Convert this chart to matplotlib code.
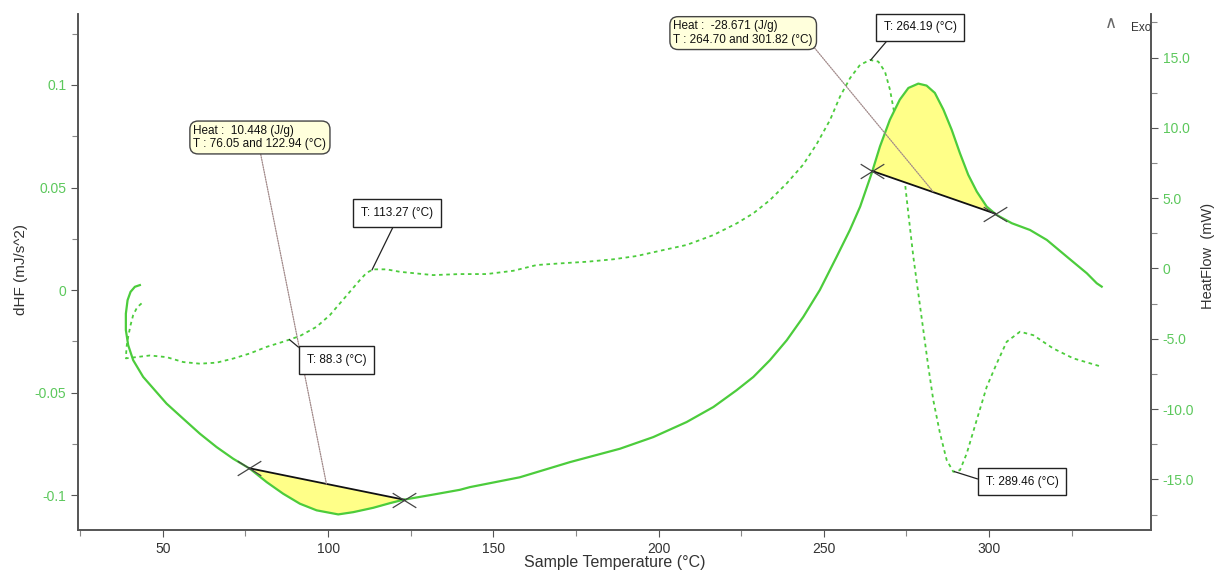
import numpy as np
import matplotlib
matplotlib.use("Agg")
import matplotlib.pyplot as plt
from matplotlib.path import Path
from matplotlib.ticker import MultipleLocator, FuncFormatter

plt.rcParams['font.family'] = ['Liberation Sans', 'DejaVu Sans']
plt.rcParams['axes.unicode_minus'] = False

# heat flow curve (right axis, mW)
hf_temp = [43.04, 41.53, 40.22, 39.32, 38.80, 38.80, 39.50, 41.01, 44.04, 47.58,
           51.12, 56.14, 61.20, 66.25, 71.28, 76.33, 81.39, 86.41, 91.47, 96.52,
           103.06, 107.60, 113.65, 118.70, 122.73, 131.81, 139.89, 142.9, 158.0,
           173.2, 188.3, 198.4, 208.5, 216.6, 223.6, 228.7, 233.7, 238.8, 243.8,
           248.8, 253.9, 257.9, 261.0, 264.5, 267.0, 270.0, 273.0, 275.6, 278.6,
           281.1, 283.6, 286.2, 288.7, 291.2, 293.7, 296.3, 299.3, 302.3, 306.9,
           312.4, 317.5, 323.5, 329.6, 332.6, 334.1]
hf_mw = [-1.18, -1.30, -1.66, -2.25, -3.21, -4.38, -5.45, -6.52, -7.71, -8.66,
         -9.61, -10.68, -11.75, -12.70, -13.53, -14.24, -15.19, -16.02, -16.73,
         -17.20, -17.49, -17.33, -17.02, -16.69, -16.45, -16.08, -15.74, -15.55,
         -14.85, -13.77, -12.82, -11.99, -10.92, -9.85, -8.66, -7.71, -6.52,
         -5.10, -3.44, -1.53, 0.84, 2.74, 4.40, 6.78, 8.68, 10.58, 12.01, 12.84,
         13.15, 13.01, 12.49, 11.30, 9.87, 8.20, 6.67, 5.47, 4.40, 3.81, 3.22,
         2.74, 2.03, 0.85, -0.34, -1.05, -1.29]

# derivative curve (left axis, mJ/s^2)
dhf_temp = [43.55, 42.22, 41.01, 40.22, 39.50, 39.01, 38.80, 46.07, 51.12, 56.14,
            61.20, 66.25, 71.28, 76.33, 81.39, 86.41, 91.47, 96.52, 100.55, 103.57,
            106.60, 109.63, 111.65, 113.65, 117.70, 121.73, 131.81, 139.89, 147.97,
            156.02, 163.10, 170.16, 178.24, 186.29, 193.37, 201.42, 208.50, 216.56,
            223.63, 228.66, 233.72, 238.77, 243.79, 247.85, 251.88, 254.90, 257.93,
            260.96, 263.98, 266.50, 268.52, 270.04, 271.55, 273.06, 274.58, 275.58,
            277.09, 278.60, 280.12, 281.63, 283.14, 285.17, 287.19, 289.19, 291.22,
            293.25, 296.27, 299.30, 302.33, 305.35, 309.38, 313.41, 319.46, 325.51,
            334.11]
dhf = [-0.0065, -0.0084, -0.0122, -0.0171, -0.0228, -0.0277, -0.0333, -0.0319,
       -0.0327, -0.0351, -0.0359, -0.0354, -0.0334, -0.0309, -0.0277, -0.0252,
       -0.0224, -0.0179, -0.0122, -0.0065, -0.0008, 0.0049, 0.0084, 0.0101,
       0.0101, 0.0089, 0.0073, 0.0078, 0.0078, 0.0094, 0.0122, 0.0130, 0.0138,
       0.0150, 0.0166, 0.0195, 0.0220, 0.0268, 0.0325, 0.0374, 0.0439, 0.0520,
       0.0612, 0.0712, 0.0829, 0.0943, 0.1033, 0.1098, 0.1122, 0.1114, 0.1065,
       0.0976, 0.0845, 0.0683, 0.0520, 0.0374, 0.0163, -0.0016, -0.0195, -0.0374,
       -0.0537, -0.0699, -0.0829, -0.0886, -0.0878, -0.0797, -0.0634, -0.0472,
       -0.0358, -0.0252, -0.0203, -0.0220, -0.0285, -0.0333, -0.0374]

# integrated peaks
peak_ranges = [(76.05, 122.94), (264.70, 301.82)]
peak_heats = ['10.448', '-28.671']
marked_temps = [113.27, 88.3, 264.19, 289.46]

green = '#4ccc3c'
tick_green = '#5cc85c'
grey = '#333333'

# flat "x" used by the analysis software for the baseline ends
cross = Path([(-1, -0.62), (1, 0.62), (-1, 0.62), (1, -0.62)],
             [Path.MOVETO, Path.LINETO, Path.MOVETO, Path.LINETO])

fig = plt.figure(figsize=(12.16, 5.72), dpi=100)
ax = fig.add_axes([0.0641, 0.0734, 0.8824, 0.9021])
ax2 = ax.twinx()

ax.plot(dhf_temp, dhf, color=green, lw=1.3, dashes=(2, 2))
ax2.plot(hf_temp, hf_mw, color=green, lw=1.6, zorder=3)

# monotonic part of the heat flow curve, used to find the baseline ends
mono_t = np.array(hf_temp[6:])
mono_v = np.array(hf_mw[6:])

for t1, t2 in peak_ranges:
    v1 = np.interp(t1, mono_t, mono_v)
    v2 = np.interp(t2, mono_t, mono_v)
    inside = (mono_t > t1) & (mono_t < t2)
    tt = np.concatenate([[t1], mono_t[inside], [t2]])
    curve = np.concatenate([[v1], mono_v[inside], [v2]])
    base = v1 + (v2 - v1) * (tt - t1) / (t2 - t1)
    ax2.fill_between(tt, base, curve, color='#ffff88', lw=0, zorder=2)
    ax2.plot([t1, t2], [v1, v2], color='#111111', lw=1.3, zorder=4)
    ax2.plot([t1, t2], [v1, v2], ls='none', marker=cross, ms=17, mew=0.9,
             color='#444444', zorder=5)

ax.set_xlim(24.3, 349)
ax.set_ylim(-0.117, 0.1346)
ax2.set_ylim(-18.6, 18.1)

ax.xaxis.set_major_locator(MultipleLocator(50))
ax.xaxis.set_minor_locator(MultipleLocator(25))
ax.yaxis.set_major_locator(MultipleLocator(0.05))
ax.yaxis.set_minor_locator(MultipleLocator(0.025))
ax2.yaxis.set_major_locator(MultipleLocator(5))
ax2.yaxis.set_minor_locator(MultipleLocator(2.5))
ax.yaxis.set_major_formatter(FuncFormatter(lambda v, p: '0' if abs(v) < 1e-9 else f'{v:g}'))
ax2.yaxis.set_major_formatter(FuncFormatter(lambda v, p: '0' if abs(v) < 1e-9 else f'{v:.1f}'))

for a in (ax, ax2):
    a.spines['top'].set_visible(False)
    for s in ('left', 'right', 'bottom'):
        a.spines[s].set_color('#555555')
        a.spines[s].set_linewidth(1.2)
    a.tick_params(which='major', length=5, width=0.8, color='#555555')
    a.tick_params(which='minor', length=4, width=0.8, color='#888888')
ax.tick_params(axis='y', labelcolor=tick_green, labelsize=10)
ax2.tick_params(axis='y', labelcolor=tick_green, labelsize=10)
ax.tick_params(axis='x', labelcolor=grey, labelsize=10)

ax.set_xlabel('Sample Temperature (°C)', fontsize=11.5, color=grey)
ax.xaxis.set_label_coords(0.5, -0.049)
ax.set_ylabel('dHF (mJ/s^2)', fontsize=11, color=grey)
ax.yaxis.set_label_coords(-0.047, 0.504)
ax2.set_ylabel('HeatFlow  (mW)', fontsize=10.5, color=grey)
ax2.yaxis.set_label_coords(1.047, 0.531)

# annotations
heat_box = dict(boxstyle='round,pad=0.3,rounding_size=0.7', fc='#ffffdc', ec='#444444', lw=1)
t_box = dict(boxstyle='square,pad=0.65', fc='white', ec='#222222', lw=1)
dotted_lead = dict(arrowstyle='-', color='#a08888', lw=0.9, ls=(0, (1, 1)), shrinkA=0, shrinkB=0)

heat_pos = [((0.1696, 0.7607), (0.5, 0)), ((0.620, 0.963), (1, 0))]
for (t1, t2), heat, (pos, rel) in zip(peak_ranges, peak_heats, heat_pos):
    tm = 0.5 * (t1 + t2)
    vm = 0.5 * (np.interp(t1, mono_t, mono_v) + np.interp(t2, mono_t, mono_v))
    lead = dict(dotted_lead, relpos=rel)
    ax2.annotate(f'Heat :  {heat} (J/g)\nT : {t1:.2f} and {t2:.2f} (°C)',
                 xy=(tm, vm), xytext=pos, textcoords='axes fraction',
                 ha='center', va='center', multialignment='left',
                 fontsize=8.5, color='#111111', linespacing=1.2,
                 bbox=heat_box, arrowprops=lead, zorder=6)

t_pos = [((0.2973, 0.6143), (0.5, 0)), ((0.2409, 0.3295), (0, 1)),
         ((0.785, 0.974), (0.13, 0)), ((0.880, 0.094), (0, 0.5))]
for t, (pos, rel) in zip(marked_temps, t_pos):
    v = np.interp(t, dhf_temp[6:], dhf[6:])
    ax2.annotate(f'T: {t} (°C)', xy=(t, v), xycoords=ax.transData,
                 xytext=pos, textcoords='axes fraction',
                 ha='center', va='center', fontsize=8.5, color='#111111',
                 bbox=t_box,
                 arrowprops=dict(arrowstyle='-', color='#222222', lw=0.9,
                                 shrinkA=0, shrinkB=0, relpos=rel),
                 zorder=6)

ax2.text(0.9627, 0.983, '∧', transform=ax2.transAxes, fontsize=12,
         color='#666666', ha='center', va='center', family=['DejaVu Sans'])
ax2.text(0.981, 0.973, 'Exo', transform=ax2.transAxes, fontsize=8.5,
         color='#333333', ha='left', va='center')

fig.savefig('out.png', dpi=100)
